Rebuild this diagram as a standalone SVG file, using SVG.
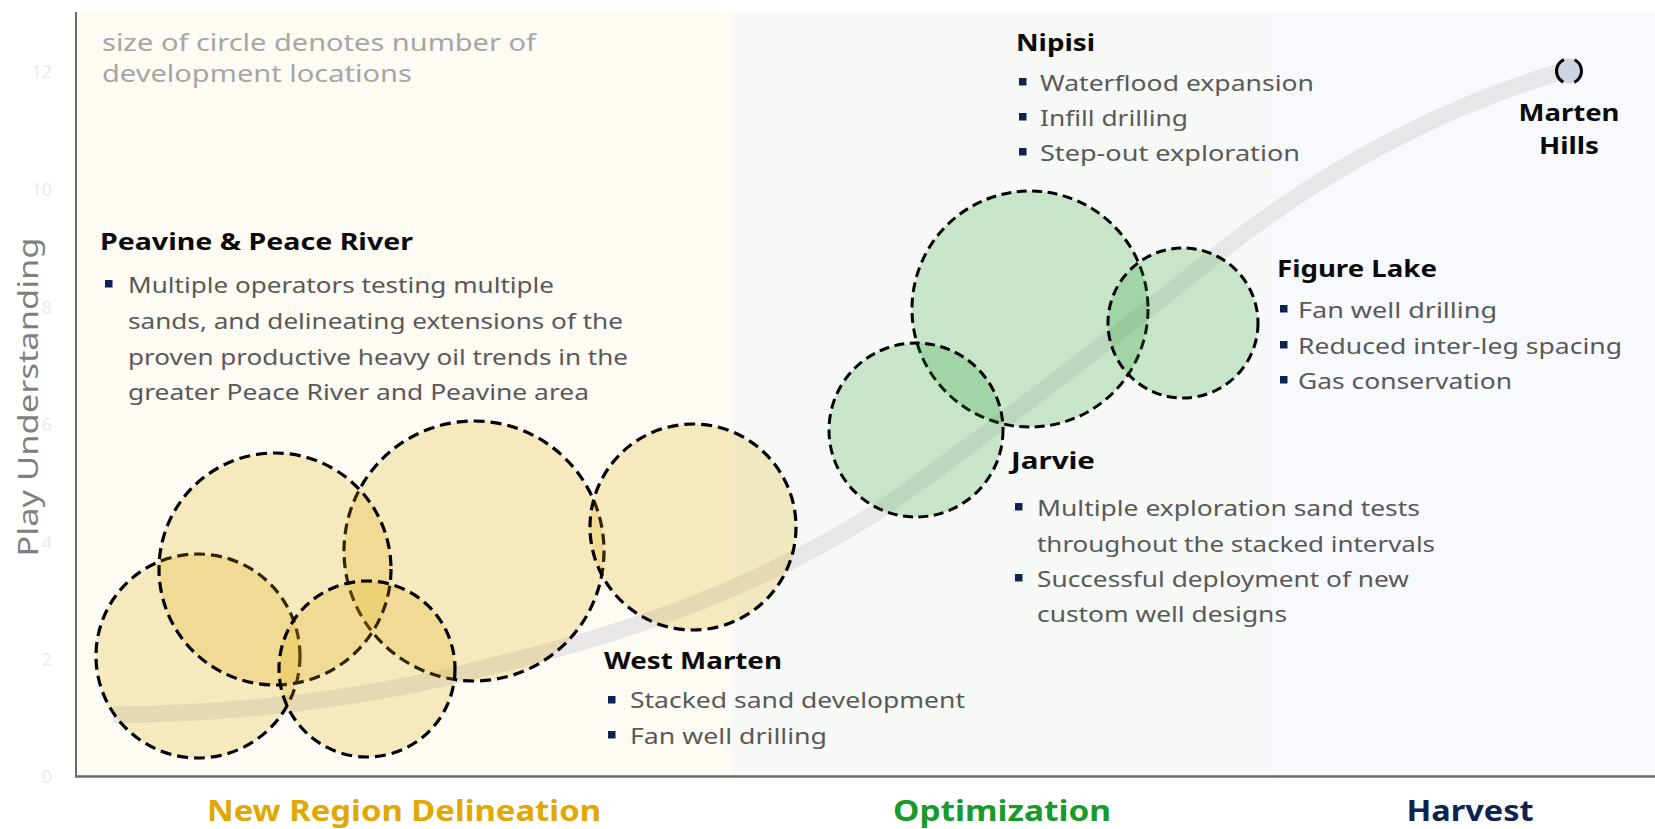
<svg xmlns="http://www.w3.org/2000/svg" width="1655" height="829" viewBox="0 0 1655 829">
<style>
text{font-family:"Noto Sans","Open Sans",sans-serif}
.tick{font-size:18px;fill:#ebebeb;text-anchor:end}
.head{font-size:24px;font-weight:700;fill:#0a0a0a}
.body{font-size:22px;fill:#595959}
.note{font-size:24px;fill:#a6a6a6}
.cat{font-size:29px;font-weight:700;text-anchor:middle}
.bul{fill:#0f2350}
.ycirc{fill:#E0A800;fill-opacity:0.22;stroke:#000;stroke-width:3.2;stroke-dasharray:11 6}
.gcirc{fill:#1E9F2B;fill-opacity:0.22;stroke:#000;stroke-width:3;stroke-dasharray:10 5.5}
</style>
<rect x="0" y="0" width="1655" height="829" fill="#ffffff"/>
<g id="backgrounds">
<rect x="76" y="12" width="656" height="764" fill="#fdfbf4"/>
<rect x="732" y="12" width="538" height="764" fill="#f7f9f6"/>
<rect x="1270" y="12" width="385" height="764" fill="#f8f9fc"/>
</g>
<g id="axes">
<line x1="76" y1="12" x2="76" y2="777" stroke="#6b6b6b" stroke-width="2"/>
<line x1="75" y1="776.5" x2="1655" y2="776.5" stroke="#6b6b6b" stroke-width="2.5"/>
<text class="tick" x="52" y="78">12</text>
<text class="tick" x="52" y="196">10</text>
<text class="tick" x="52" y="314">8</text>
<text class="tick" x="52" y="431">6</text>
<text class="tick" x="52" y="549">4</text>
<text class="tick" x="52" y="666">2</text>
<text class="tick" x="52" y="783">0</text>
<text transform="translate(38,397) rotate(-90)" text-anchor="middle" font-size="28" fill="#7f7f7f" textLength="319" lengthAdjust="spacingAndGlyphs">Play Understanding</text>
</g>
<g id="connectors">
<path d="M113,715 C250,714 380,695 480,669 C613,637 747,595 880,510 C990,433 1100,348 1210,260 C1327,166 1443,107 1560,72" fill="none" stroke="#e7e7e7" stroke-width="17"/>
</g>
<g id="note">
<text class="note" x="102" y="51" textLength="434" lengthAdjust="spacingAndGlyphs">size of circle denotes number of</text>
<text class="note" x="102" y="82" textLength="310" lengthAdjust="spacingAndGlyphs">development locations</text>
</g>
<g id="circles-new-region">
<circle class="ycirc" cx="474" cy="551" r="130" stroke-width="3.6" stroke-dasharray="13 7"/>
<circle class="ycirc" cx="693" cy="527" r="103"/>
<circle class="ycirc" cx="198" cy="656" r="102" stroke-dasharray="9 5"/>
<circle class="ycirc" cx="275" cy="569" r="116"/>
<circle class="ycirc" cx="367" cy="669" r="88" stroke-dasharray="9 5"/>
</g>
<g id="circles-optimization">
<circle class="gcirc" cx="1030" cy="309" r="118"/>
<circle class="gcirc" cx="1183" cy="323" r="75"/>
<circle class="gcirc" cx="916" cy="430" r="87"/>
</g>
<g id="node-peavine">
<text class="head" x="100" y="250" textLength="313" lengthAdjust="spacingAndGlyphs">Peavine &amp; Peace River</text>
<rect class="bul" x="105" y="280" width="7.5" height="7.5"/>
<text class="body" x="128" y="293" textLength="426" lengthAdjust="spacingAndGlyphs">Multiple operators testing multiple</text>
<text class="body" x="128" y="329" textLength="495" lengthAdjust="spacingAndGlyphs">sands, and delineating extensions of the</text>
<text class="body" x="128" y="365" textLength="500" lengthAdjust="spacingAndGlyphs">proven productive heavy oil trends in the</text>
<text class="body" x="128" y="400" textLength="461" lengthAdjust="spacingAndGlyphs">greater Peace River and Peavine area</text>
</g>
<g id="node-west-marten">
<text class="head" x="604" y="669" textLength="178" lengthAdjust="spacingAndGlyphs">West Marten</text>
<rect class="bul" x="608" y="696" width="7.5" height="7.5"/>
<text class="body" x="630" y="708" textLength="335" lengthAdjust="spacingAndGlyphs">Stacked sand development</text>
<rect class="bul" x="608" y="731" width="7.5" height="7.5"/>
<text class="body" x="630" y="744" textLength="197" lengthAdjust="spacingAndGlyphs">Fan well drilling</text>
</g>
<g id="node-nipisi">
<text class="head" x="1016" y="51" textLength="79" lengthAdjust="spacingAndGlyphs">Nipisi</text>
<rect class="bul" x="1019" y="78" width="7.5" height="7.5"/>
<text class="body" x="1040" y="91" textLength="274" lengthAdjust="spacingAndGlyphs">Waterflood expansion</text>
<rect class="bul" x="1019" y="113" width="7.5" height="7.5"/>
<text class="body" x="1040" y="126" textLength="148" lengthAdjust="spacingAndGlyphs">Infill drilling</text>
<rect class="bul" x="1019" y="148" width="7.5" height="7.5"/>
<text class="body" x="1040" y="161" textLength="260" lengthAdjust="spacingAndGlyphs">Step-out exploration</text>
</g>
<g id="node-marten-hills">
<circle cx="1569" cy="71" r="12.5" fill="#cdd5e3" stroke="#000" stroke-width="3" stroke-dasharray="28 11.3" transform="rotate(-64 1569 71)"/>
<text class="head" x="1569" y="121" text-anchor="middle" textLength="101" lengthAdjust="spacingAndGlyphs">Marten</text>
<text class="head" x="1569" y="154" text-anchor="middle" textLength="60" lengthAdjust="spacingAndGlyphs">Hills</text>
</g>
<g id="node-figure-lake">
<text class="head" x="1277" y="277" textLength="160" lengthAdjust="spacingAndGlyphs">Figure Lake</text>
<rect class="bul" x="1280" y="305" width="7.5" height="7.5"/>
<text class="body" x="1298" y="318" textLength="199" lengthAdjust="spacingAndGlyphs">Fan well drilling</text>
<rect class="bul" x="1280" y="341" width="7.5" height="7.5"/>
<text class="body" x="1298" y="354" textLength="324" lengthAdjust="spacingAndGlyphs">Reduced inter-leg spacing</text>
<rect class="bul" x="1280" y="376" width="7.5" height="7.5"/>
<text class="body" x="1298" y="389" textLength="214" lengthAdjust="spacingAndGlyphs">Gas conservation</text>
</g>
<g id="node-jarvie">
<text class="head" x="1011" y="469" textLength="84" lengthAdjust="spacingAndGlyphs">Jarvie</text>
<rect class="bul" x="1015" y="503" width="7.5" height="7.5"/>
<text class="body" x="1037" y="516" textLength="383" lengthAdjust="spacingAndGlyphs">Multiple exploration sand tests</text>
<text class="body" x="1037" y="552" textLength="398" lengthAdjust="spacingAndGlyphs">throughout the stacked intervals</text>
<rect class="bul" x="1015" y="574" width="7.5" height="7.5"/>
<text class="body" x="1037" y="587" textLength="372" lengthAdjust="spacingAndGlyphs">Successful deployment of new</text>
<text class="body" x="1037" y="622" textLength="250" lengthAdjust="spacingAndGlyphs">custom well designs</text>
</g>
<g id="categories">
<text class="cat" x="404" y="821" fill="#E0A800" textLength="394" lengthAdjust="spacingAndGlyphs">New Region Delineation</text>
<text class="cat" x="1002" y="821" fill="#1a9a2a" textLength="218" lengthAdjust="spacingAndGlyphs">Optimization</text>
<text class="cat" x="1470" y="821" fill="#0f2350" textLength="127" lengthAdjust="spacingAndGlyphs">Harvest</text>
</g>
</svg>
